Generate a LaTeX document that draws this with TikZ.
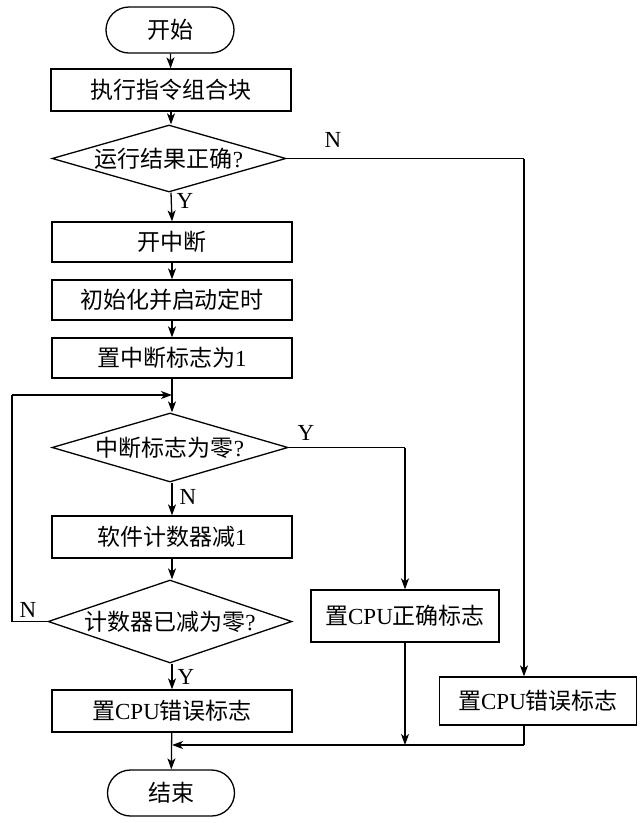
\documentclass[tikz,border=0pt]{standalone}
\usepackage{fontspec}
\setmainfont{Liberation Serif}
\newfontfamily\cjk{Noto Sans CJK SC}
\usetikzlibrary{shapes.geometric,shapes.misc,arrows.meta}
\begin{document}
\begin{tikzpicture}[x=1pt,y=-1pt,
  every node/.style={font=\fontsize{23}{26}\selectfont},
  box/.style={draw,line width=1.3pt,rectangle,minimum width=240,minimum height=42,inner sep=0},
  term/.style={draw,line width=1.3pt,rounded rectangle,minimum width=128,minimum height=46,inner sep=0},
  dia/.style={draw,line width=1.3pt,diamond,aspect=3.4,minimum width=236,minimum height=68,inner sep=0},
  lab/.style={font=\fontsize{23}{26}\selectfont},
  conn/.style={line width=1.3pt},
  arr/.style={line width=1.3pt,-{Stealth[length=11pt,width=8pt,inset=3pt]}}]
\useasboundingbox (0,0) rectangle (640,823);
\node[term] (start) at (170,30) {\cjk 开始};
\node[box] (b1) at (171,90) {\cjk 执行指令组合块};
\node[dia,minimum width=234,minimum height=67] (d1) at (169,158.5) {{\cjk 运行结果正确}?};
\node[box,minimum height=40] (b2) at (172,242) {\cjk 开中断};
\node[box,minimum height=40] (b3) at (172,300) {\cjk 初始化并启动定时};
\node[box,minimum height=40] (b4) at (172,358) {{\cjk 置中断标志为}1};
\coordinate (m1) at (172,395);
\node[dia,minimum height=69] (d2) at (170,447.5) {{\cjk 中断标志为零}?};
\node[box] (b5) at (172,537) {{\cjk 软件计数器减}1};
\node[dia,minimum height=83] (d3) at (170,621.5) {{\cjk 计数器已减为零}?};
\node[box] (b6) at (172,711) {{\cjk 置}CPU{\cjk 错误标志}};
\node[box,minimum width=188,minimum height=52] (b7) at (405,616) {{\cjk 置}CPU{\cjk 正确标志}};
\node[box,minimum width=197,minimum height=48] (b8) at (538,701) {{\cjk 置}CPU{\cjk 错误标志}};
\node[term,minimum width=127,minimum height=46] (end) at (171,793) {\cjk 结束};
\coordinate (n1) at (524,158.5);
\coordinate (y2) at (405,447.5);
\coordinate (l1) at (12,621.5);
\coordinate (m2) at (172,745);
\coordinate (r1) at (524,745);
% connectors
\draw[arr] (start) -- (b1);
\draw[arr] (b1.south) -- (b1.south |- d1.north);
\draw[arr] (b1.south |- d1.south) -- (b2.north);
\draw[arr] (b2) -- (b3);
\draw[arr] (b3) -- (b4);
\draw[arr] (b4.south) -- (b4.south |- d2.north);
\draw[conn] (d1.east) -- (n1);
\draw[arr] (n1) -- (n1 |- b8.north);
\draw[conn] (d2.east) -- (y2);
\draw[arr] (y2) -- (b7.north);
\draw[arr] (b5.north |- d2.south) -- (b5.north);
\draw[arr] (b5.south) -- (b5.south |- d3.north);
\draw[conn] (d3.west) -- (l1) -- (l1 |- m1);
\draw[arr] (l1 |- m1) -- (m1);
\draw[arr] (b6.north |- d3.south) -- (b6.north);
\draw[arr] (b6) -- (end);
\draw[arr] (b7.south) -- (b7.south |- m2);
\draw[conn] (n1 |- b8.south) -- (r1);
\draw[arr] (r1) -- (m2);
% labels
\node[lab] at (333,140) {N};
\node[lab] at (185,201) {Y};
\node[lab] at (306,433) {Y};
\node[lab] at (188,497) {N};
\node[lab] at (28,610) {N};
\node[lab] at (186,677) {Y};
\end{tikzpicture}
\end{document}
